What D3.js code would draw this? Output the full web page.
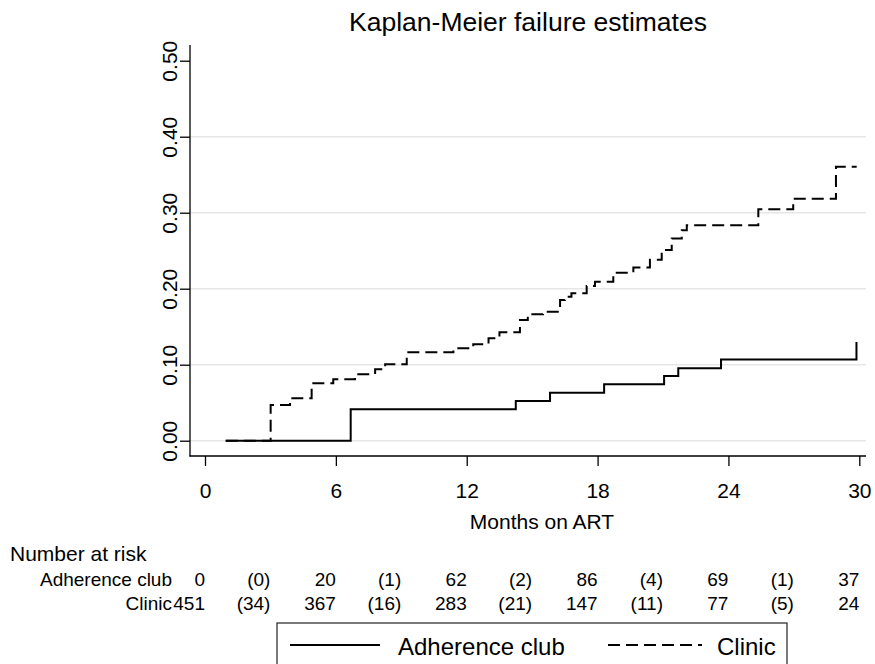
<!DOCTYPE html>
<html>
<head>
<meta charset="utf-8">
<script src="https://cdn.jsdelivr.net/npm/d3@7"></script>
<style>
  body { margin: 0; background: #fff; }
  svg { display: block; font-family: "Liberation Sans", Arial, sans-serif; }
</style>
</head>
<body>
<svg id="chart" width="875" height="664"></svg>
<script>
// Kaplan-Meier failure curves
var adherenceTimes = [0.95, 6.68, 14.25, 15.82, 18.3, 21.05, 21.7, 23.66, 29.87];
var adherenceFail  = [0,    0.0413, 0.0522, 0.0632, 0.0742, 0.0851, 0.0953, 0.107, 0.130];

var clinicTimes = [0.95, 3.01, 3.9, 4.89, 5.88, 6.88, 7.8, 8.26, 9.25, 11.39, 12.3, 13.0, 13.5,
                   14.44, 14.8, 15.5, 16.28, 16.5, 16.8, 17.5, 17.88, 18.72, 19.64, 20.4,
                   20.94, 21.4, 21.86, 22.09, 25.37, 26.97, 28.93, 29.88];
var clinicFail  = [0, 0.047, 0.0558, 0.0755, 0.0808, 0.0874, 0.094, 0.1005, 0.1163, 0.1216, 0.127, 0.1347, 0.1426,
                   0.1588, 0.1663, 0.1697, 0.185, 0.1895, 0.194, 0.2036, 0.2092, 0.221, 0.228, 0.238,
                   0.251, 0.266, 0.277, 0.2836, 0.3045, 0.3184, 0.3605, 0.3605];

// number at risk table
var riskTimes       = [0, 6, 12, 18, 24, 30];
var eventTimes      = [3, 9, 15, 21, 27];
var adherenceRisk   = [0, 20, 62, 86, 69, 37];
var adherenceEvents = [0, 1, 2, 4, 1];
var clinicRisk      = [451, 367, 283, 147, 77, 24];
var clinicEvents    = [34, 16, 21, 11, 5];

var xTicks = [0, 6, 12, 18, 24, 30];
var yTicks = [0, 0.1, 0.2, 0.3, 0.4, 0.5];
var gridTicks = [0, 0.1, 0.2, 0.3, 0.4];

var svg = d3.select('#chart');

var x = d3.scaleLinear().domain([0, 30]).range([205, 859.3]);
var y = d3.scaleLinear().domain([0, 0.5]).range([440.7, 60.7]);

// gridlines
svg.append('g').selectAll('line')
  .data(gridTicks)
  .enter().append('line')
  .attr('x1', 190).attr('x2', 866)
  .attr('y1', function(d) { return y(d); })
  .attr('y2', function(d) { return y(d); })
  .attr('stroke', '#e6e6e6')
  .attr('stroke-width', 1.5);

// axes
var yAxis = d3.axisLeft(y).tickValues(yTicks).tickSize(10).tickSizeOuter(0)
  .tickFormat(d3.format('.2f'));
var xAxis = d3.axisBottom(x).tickValues(xTicks).tickSize(10).tickSizeOuter(0)
  .tickFormat(d3.format('d'));

var gy = svg.append('g').attr('transform', 'translate(190,0)').call(yAxis);
gy.select('.domain').remove();
gy.selectAll('.tick line').attr('stroke', '#000').attr('stroke-width', 1.3);
gy.selectAll('.tick text')
  .attr('x', 0).attr('dy', 0)
  .attr('transform', 'translate(-13,0) rotate(-90)')
  .attr('text-anchor', 'middle')
  .attr('fill', '#000')
  .style('font-size', '21px');

var gx = svg.append('g').attr('transform', 'translate(0,456)').call(xAxis);
gx.select('.domain').remove();
gx.selectAll('.tick line').attr('stroke', '#000').attr('stroke-width', 1.3);
gx.selectAll('.tick text')
  .attr('y', 42).attr('dy', 0)
  .attr('fill', '#000')
  .style('font-size', '21px');

svg.append('line').attr('x1', 190).attr('x2', 190).attr('y1', 45).attr('y2', 456.5)
  .attr('stroke', '#000').attr('stroke-width', 1.3);
svg.append('line').attr('x1', 189.5).attr('x2', 866).attr('y1', 456).attr('y2', 456)
  .attr('stroke', '#000').attr('stroke-width', 1.3);

// curves
var step = d3.line()
  .x(function(d) { return x(d[0]); })
  .y(function(d) { return y(d[1]); })
  .curve(d3.curveStepAfter);

svg.append('path')
  .datum(d3.zip(adherenceTimes, adherenceFail))
  .attr('d', step)
  .attr('fill', 'none')
  .attr('stroke', '#000')
  .attr('stroke-width', 2);

svg.append('path')
  .datum(d3.zip(clinicTimes, clinicFail))
  .attr('d', step)
  .attr('fill', 'none')
  .attr('stroke', '#000')
  .attr('stroke-width', 2)
  .attr('stroke-dasharray', '12,6');

// titles
svg.append('text').attr('x', 528).attr('y', 31)
  .attr('text-anchor', 'middle').style('font-size', '26.5px')
  .text('Kaplan-Meier failure estimates');

svg.append('text').attr('x', 542).attr('y', 529)
  .attr('text-anchor', 'middle').style('font-size', '21px')
  .text('Months on ART');

svg.append('text').attr('x', 10).attr('y', 561)
  .style('font-size', '21px')
  .text('Number at risk');

// at risk rows
function riskRow(label, yPos, risk, events) {
  var g = svg.append('g').style('font-size', '19px');
  g.append('text').attr('x', 172).attr('y', yPos).attr('text-anchor', 'end').text(label);
  g.selectAll('text.n').data(risk).enter().append('text')
    .attr('class', 'n')
    .attr('x', function(d, i) { return x(riskTimes[i]); })
    .attr('y', yPos).attr('text-anchor', 'end')
    .text(function(d) { return d; });
  g.selectAll('text.e').data(events).enter().append('text')
    .attr('class', 'e')
    .attr('x', function(d, i) { return x(eventTimes[i]); })
    .attr('y', yPos).attr('text-anchor', 'end')
    .text(function(d) { return '(' + d + ')'; });
}
riskRow('Adherence club', 586, adherenceRisk, adherenceEvents);
riskRow('Clinic', 610, clinicRisk, clinicEvents);

// legend
var lg = svg.append('g');
lg.append('rect').attr('x', 277).attr('y', 623).attr('width', 510).attr('height', 60)
  .attr('fill', '#fff').attr('stroke', '#333').attr('stroke-width', 1.3);
lg.append('line').attr('x1', 290).attr('x2', 380).attr('y1', 645).attr('y2', 645)
  .attr('stroke', '#000').attr('stroke-width', 2);
lg.append('text').attr('x', 398).attr('y', 655).style('font-size', '24px').text('Adherence club');
lg.append('line').attr('x1', 608).attr('x2', 702).attr('y1', 645).attr('y2', 645)
  .attr('stroke', '#000').attr('stroke-width', 2).attr('stroke-dasharray', '12,6');
lg.append('text').attr('x', 717).attr('y', 655).style('font-size', '24px').text('Clinic');
</script>
</body>
</html>
